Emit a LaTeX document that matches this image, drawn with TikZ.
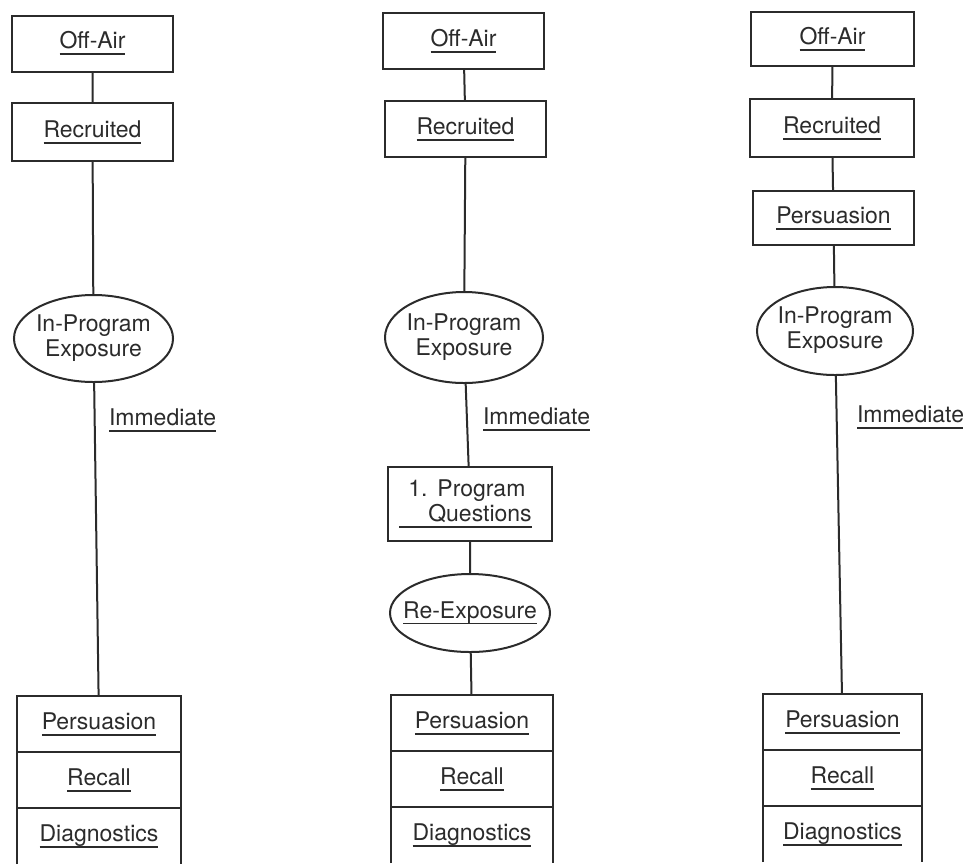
\documentclass[tikz,border=0pt]{standalone}
\usepackage{fontspec}
\setmainfont{TeX Gyre Heros}
\usetikzlibrary{shapes.geometric,positioning}
\definecolor{ink}{HTML}{2B2B2B}
\newsavebox\undlbox
\newcommand\undl[1]{\sbox\undlbox{#1}\rlap{\rule[-3.2pt]{\wd\undlbox}{0.9pt}}\usebox\undlbox}
\newcommand\ovaltext[1]{\makebox[0pt]{\begin{tabular}{@{}c@{}}#1\end{tabular}}}
\tikzset{
	stage/.style={draw,rectangle,minimum width=80.5pt,minimum height=28pt,inner sep=0pt,outer sep=0pt},
	exposure/.style={draw,ellipse,inner sep=0pt,outer sep=0pt},
	result/.style={draw,rectangle,minimum height=28pt,inner sep=0pt,outer sep=0pt},
	delay/.style={anchor=west,inner sep=0pt},
}
\begin{document}
\begin{tikzpicture}[x=0.5pt,y=-0.5pt,line width=1pt,color=ink,font=\fontsize{11.5}{12.5}\selectfont]
	\useasboundingbox (0,0) rectangle (963,864);
	\clip (0,0) rectangle (963,864);
	% left design
	\node[stage] (offair1) at (92.5,43.5) {\undl{Off-Air}};
	\node[stage,minimum height=29pt] (recr1) at (92.5,132) {\undl{Recruited}};
	\node[exposure,minimum width=79.5pt,minimum height=43.5pt] (exp1) at (93.5,338.5) {\ovaltext{In-Program\\Exposure}};
	\node[delay] (imm1) at (108,420) {\undl{Immediate}};
	\node[result,minimum width=82pt,anchor=north] (rpers1) at (99,696) {\undl{Persuasion}};
	\node[result,minimum width=82pt,below=0pt of rpers1] (rrec1) {\undl{Recall}};
	\node[result,minimum width=82pt,below=0pt of rrec1,draw=none] (rdiag1) {\undl{Diagnostics}};
	\draw (offair1)--(recr1) (recr1)--(exp1) (exp1)--(rpers1);
	\draw (rdiag1.south west)--(rdiag1.north west) (rdiag1.north east)--(rdiag1.south east);
	% middle design
	\node[stage] (offair2) at (463.5,41) {\undl{Off-Air}};
	\node[stage] (recr2) at (465.5,129) {\undl{Recruited}};
	\node[exposure,minimum width=79pt,minimum height=45.5pt] (exp2) at (464,337.5) {\ovaltext{In-Program\\Exposure}};
	\node[delay] (imm2) at (482,419) {\undl{Immediate}};
	\node[stage,minimum width=82pt,minimum height=37pt,align=left] (quest2) at (470,504) {1.\hspace{5pt}Program\\\hspace*{-4.5pt}\undl{\hspace*{14.5pt}Questions}};
	\node[exposure,minimum width=80pt,minimum height=39pt] (reexp2) at (470,613) {\ovaltext{\undl{Re-Exposure}}};
	\node[result,minimum width=81pt,anchor=north] (rpers2) at (472,695) {\undl{Persuasion}};
	\node[result,minimum width=81pt,below=0pt of rpers2] (rrec2) {\undl{Recall}};
	\node[result,minimum width=81pt,below=0pt of rrec2,draw=none] (rdiag2) {\undl{Diagnostics}};
	\draw (offair2)--(recr2) (recr2)--(exp2) (exp2)--(quest2) (quest2)--(reexp2) (reexp2)--(rpers2);
	\draw (rdiag2.south west)--(rdiag2.north west) (rdiag2.north east)--(rdiag2.south east);
	% right design
	\node[stage,minimum width=81.5pt,minimum height=27pt] (offair3) at (832.5,39) {\undl{Off-Air}};
	\node[stage,minimum width=82pt,minimum height=29pt] (recr3) at (832,128) {\undl{Recruited}};
	\node[stage,minimum height=27pt] (persu3) at (833.5,218) {\undl{Persuasion}};
	\node[exposure,minimum width=78pt,minimum height=44pt] (exp3) at (835,331) {\ovaltext{In-Program\\Exposure}};
	\node[delay] (imm3) at (856,417) {\undl{Immediate}};
	\node[result,minimum width=79.5pt,anchor=north] (rpers3) at (842.5,694) {\undl{Persuasion}};
	\node[result,minimum width=79.5pt,below=0pt of rpers3] (rrec3) {\undl{Recall}};
	\node[result,minimum width=79.5pt,below=0pt of rrec3,draw=none] (rdiag3) {\undl{Diagnostics}};
	\draw (offair3)--(recr3) (recr3)--(persu3) (persu3)--(exp3) (exp3)--(rpers3);
	\draw (rdiag3.south west)--(rdiag3.north west) (rdiag3.north east)--(rdiag3.south east);
\end{tikzpicture}
\end{document}
